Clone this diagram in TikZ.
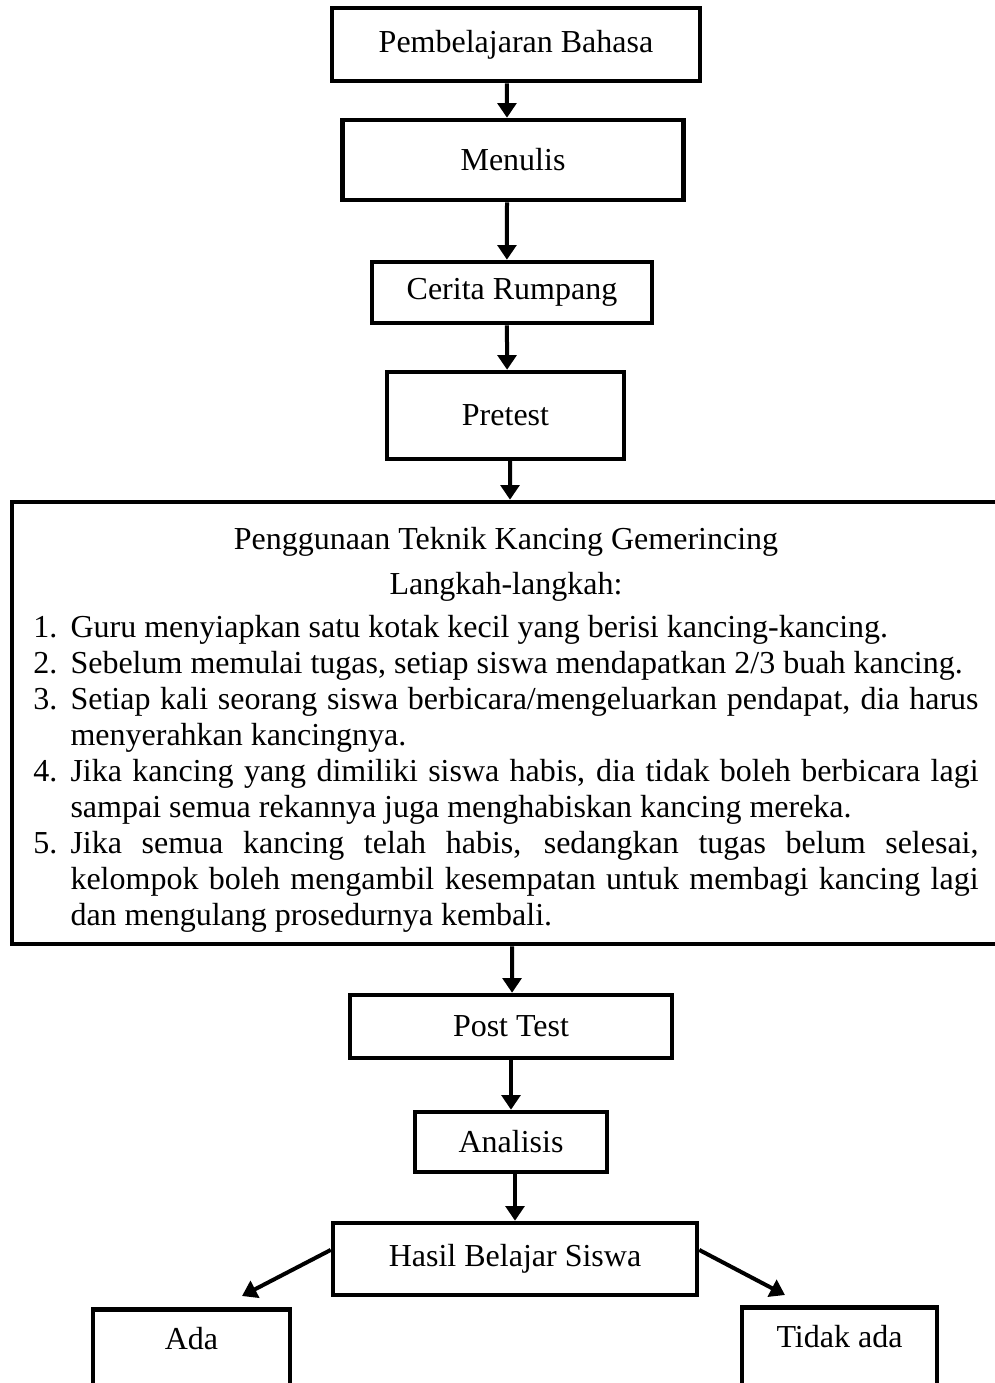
\documentclass[tikz,border=0pt]{standalone}
\usepackage{fontspec}
\setmainfont{Liberation Serif}
\usepackage{enumitem}
\usetikzlibrary{arrows.meta}

\begin{document}
\begin{tikzpicture}[x=0.375pt,y=-0.375pt]

 \tikzset{
      boxstl/.style={draw,line width=1.7pt,inner sep=0pt,align=center,
        font=\fontsize{12}{13.5}\selectfont},
      arrstl/.style={line width=1.5pt,-{Triangle[length=5.5pt,width=7pt]}},
    }

 \useasboundingbox (0,0) rectangle (995,1383);

 %% upper chain.
 \node[boxstl,minimum width=138pt,minimum height=27.4pt] (bahasa) at (516,44.5) {Pembelajaran Bahasa};
 \node[boxstl,minimum width=127.9pt,minimum height=30pt] (menulis) at (513,160) {Menulis};
 \node[boxstl,minimum width=105pt,minimum height=22.9pt] (cerita) at (512,292.5) {Cerita Rumpang};
 \node[boxstl,minimum width=88.9pt,minimum height=32.6pt] (pretest) at (505.5,415.5) {Pretest};

 %% the big box, runs out on the right.
 \node[boxstl,align=none,minimum width=370.5pt,minimum height=165.75pt,text width=354.4pt]
   (kancing) at (506,723) {%
   {\centering\rule{0pt}{13.1pt}Penggunaan Teknik Kancing Gemerincing\\[3.4pt]
    Langkah-langkah:\par}\vspace{2.6pt}%
   \hyphenpenalty=10000 \sloppy
   \begin{enumerate}[leftmargin=13.9pt,labelsep=4.9pt,labelwidth=9pt,align=right,
     itemsep=0pt,parsep=0pt,topsep=0pt,partopsep=0pt]
   \item Guru menyiapkan satu kotak kecil yang berisi kancing-kancing.
   \item Sebelum memulai tugas, setiap siswa mendapatkan 2/3 buah kancing.
   \item Setiap kali seorang siswa berbicara/mengeluarkan pendapat, dia harus\linebreak
     menyerahkan kancingnya.
   \item Jika kancing yang dimiliki siswa habis, dia tidak boleh berbicara lagi\linebreak
     sampai semua rekannya juga menghabiskan kancing mereka.
   \item Jika semua kancing telah habis, sedangkan tugas belum selesai,\linebreak
     kelompok boleh mengambil kesempatan untuk membagi kancing lagi\linebreak
     dan mengulang prosedurnya kembali.
   \end{enumerate}};

 %% lower chain.
 \node[boxstl,minimum width=120.75pt,minimum height=23.6pt] (post) at (511,1026.5) {Post Test};
 \node[boxstl,minimum width=72pt,minimum height=22.5pt] (analisis) at (511,1142) {Analisis};
 \node[boxstl,minimum width=136.5pt,minimum height=27pt] (hasil) at (515,1259) {Hasil Belajar Siswa};

 % both run out at the bottom.
 \node[boxstl,anchor=north,minimum width=73.9pt,inner ysep=6.75pt,text height=8.4pt,text depth=30pt]
   (ada) at (191.5,1307) {Ada};
 \node[boxstl,anchor=north,minimum width=73.1pt,inner ysep=6.75pt,text height=8.4pt,text depth=30pt]
   (tidak) at (839.5,1305) {Tidak ada};

 \draw[arrstl] ([xshift=-3.4pt]bahasa.south) -- ([xshift=-2.25pt]menulis.north);
 \draw[arrstl] ([xshift=-2.25pt]menulis.south) -- ([xshift=-1.9pt]cerita.north);
 \draw[arrstl] ([xshift=-1.9pt]cerita.south) -- ([xshift=0.6pt]pretest.north);
 \draw[arrstl] ([xshift=1.7pt]pretest.south) -- ([xshift=1.5pt]kancing.north);
 \draw[arrstl] ([xshift=2.25pt]kancing.south) -- ([xshift=0.4pt]post.north);
 \draw[arrstl] (post.south) -- (analisis.north);
 \draw[arrstl] ([xshift=1.5pt]analisis.south) -- (hasil.north);

 %% tips above the two result boxes.
 \coordinate (adatip) at (242,1296);
 \coordinate (tidaktip) at (785,1295);

 \draw[arrstl] ([yshift=3.4pt]hasil.west) -- (adatip);
 \draw[arrstl] ([yshift=3.4pt]hasil.east) -- (tidaktip);

\end{tikzpicture}
\end{document}
